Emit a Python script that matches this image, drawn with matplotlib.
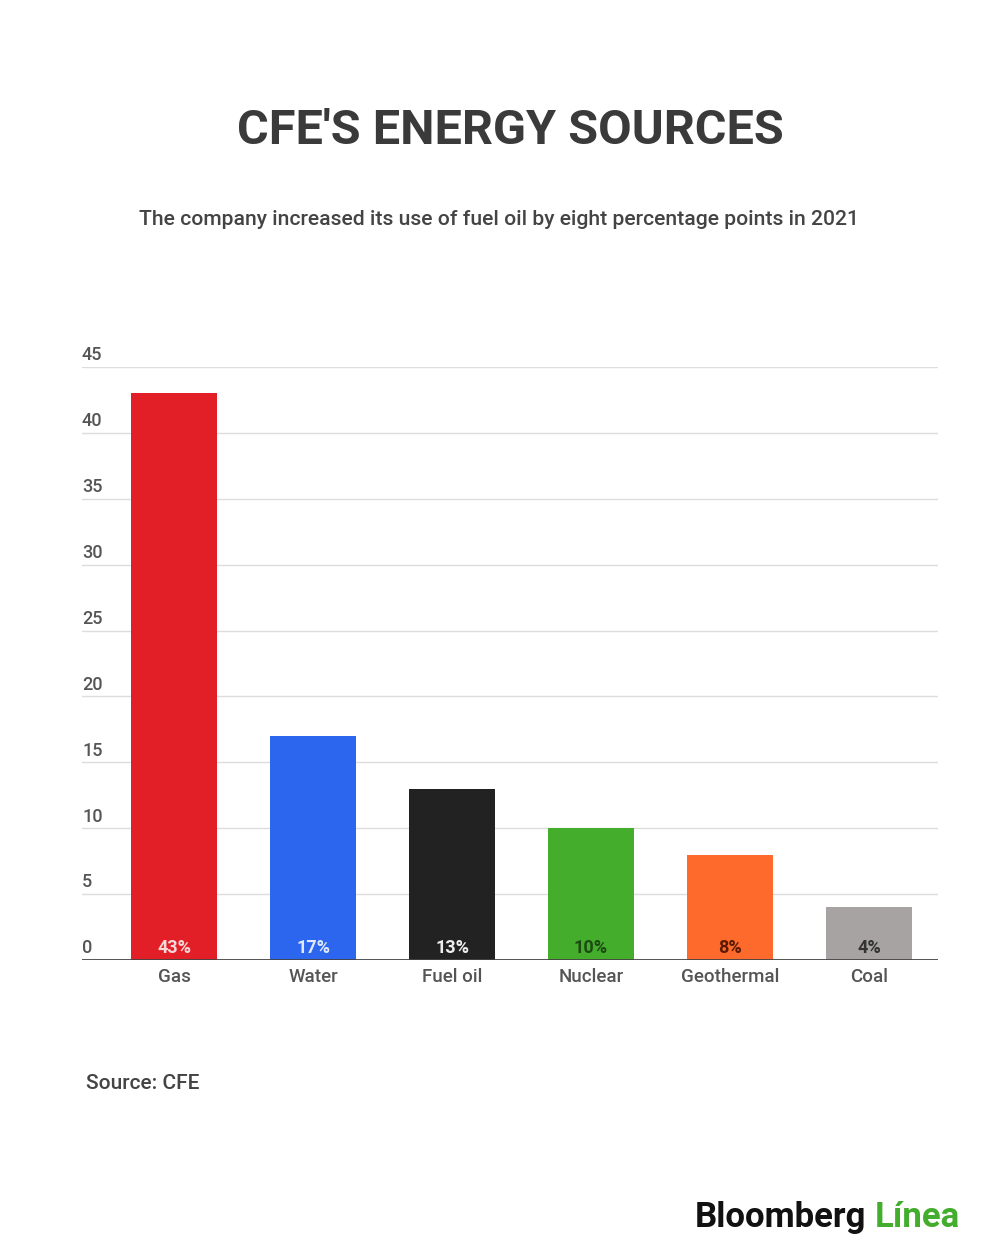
import matplotlib.pyplot as plt
import numpy as np

# Data
categories = ['Gas', 'Water', 'Fuel oil', 'Nuclear', 'Geothermal', 'Coal']
shares = [43, 17, 13, 10, 8, 4]
bar_colors = ['#e21f26', '#2c66ee', '#222222', '#44ae2c', '#fd6a2b', '#a8a3a3']
label_colors = ['#f6d8d8', '#dfe8fd', '#eeeeee', '#1d4a12', '#5a1a05', '#333333']
y_ticks = [0, 5, 10, 15, 20, 25, 30, 35, 40, 45]

plt.rcParams['font.family'] = ['Roboto', 'DejaVu Sans']

fig = plt.figure(figsize=(10, 12.6), dpi=100)
fig.patch.set_facecolor('white')

ax = fig.add_axes([0.082, 0.2381, 0.856, 0.4706])
x = np.arange(len(categories))
ax.bar(x, shares, width=0.62, color=bar_colors, zorder=2)

# Value labels inside bars at the bottom
for xi, val, c in zip(x, shares, label_colors):
    ax.text(xi, 0.25, f'{val}%', ha='center', va='bottom', fontsize=13,
            fontweight='bold', color=c, zorder=3)

ax.set_xlim(-0.662, 5.496)
ax.set_ylim(0, 45)

# Gridlines and tick labels sitting above them
for t in y_ticks:
    if t > 0:
        ax.axhline(t, color='#dddddd', linewidth=1, zorder=1)
    ax.text(-0.662, t + 0.2, str(t), ha='left', va='bottom', fontsize=13,
            fontweight='medium', color='#555555')
ax.axhline(0, color='#444444', linewidth=2, zorder=4)

ax.set_yticks([])
ax.set_xticks(x)
ax.set_xticklabels(categories, fontsize=13.5, fontweight='medium', color='#555555')
ax.tick_params(axis='x', length=0, pad=6)
for s in ax.spines.values():
    s.set_visible(False)

# Titles
fig.text(0.51, 0.896, "CFE'S ENERGY SOURCES", ha='center', va='center',
         fontsize=35, fontweight='bold', color='#3a3a3a')
fig.text(0.499, 0.826,
         'The company increased its use of fuel oil by eight percentage points in 2021',
         ha='center', va='center', fontsize=15.2, fontweight='medium', color='#444444')

# Source and logo
fig.text(0.086, 0.14, 'Source: CFE', ha='left', va='center', fontsize=15,
         fontweight='medium', color='#444444')
fig.text(0.695, 0.034, 'Bloomberg', ha='left', va='center', fontsize=25,
         fontweight='bold', color='#111111')
fig.text(0.875, 0.034, 'Línea', ha='left', va='center', fontsize=25,
         fontweight='bold', color='#43ad2d')

fig.savefig('out.png', dpi=100, facecolor='white')
